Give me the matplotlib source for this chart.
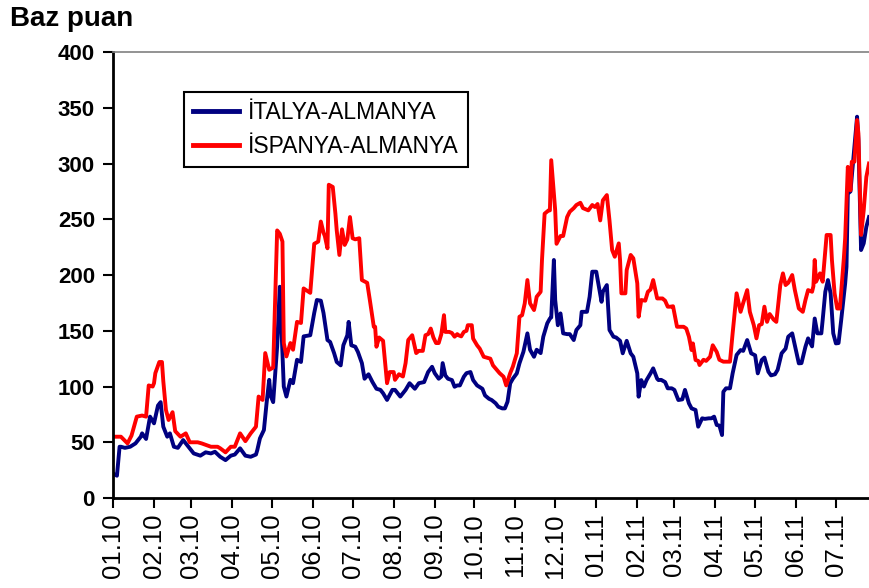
import matplotlib
matplotlib.use("Agg")
import matplotlib.pyplot as plt
import pandas as pd

plt.rcParams['font.family'] = ['Liberation Sans', 'DejaVu Sans']

start = pd.Timestamp('2010-01-01')

# days since 2010-01-01 and spread values (basis points)
italy_days = [0, 3, 5, 6, 9, 13, 17, 21, 22, 25, 28, 31, 34, 36, 38, 41, 43, 46, 49, 53,
              57, 61, 66, 70, 74, 77, 81, 85, 89, 92, 96, 100, 104, 108, 109, 111, 114, 116,
              118, 119, 121, 124, 126, 127, 129, 131, 134, 136, 139, 142, 144, 149, 152, 154,
              157, 159, 162, 164, 167, 169, 172, 174, 177, 178, 180, 183, 185, 188, 190, 193,
              196, 199, 202, 204, 207, 211, 213, 217, 221, 224, 228, 231, 235, 238, 241, 243,
              246, 248, 249, 251, 253, 256, 258, 260, 262, 265, 267, 270, 272, 275, 279, 281,
              284, 286, 289, 291, 294, 296, 298, 300, 302, 305, 307, 310, 313, 315, 318, 320,
              323, 325, 328, 330, 331, 333, 334, 336, 338, 340, 343, 345, 348, 350, 353, 354,
              358, 360, 362, 365, 367, 369, 370, 373, 375, 378, 380, 383, 385, 388, 391, 393,
              396, 397, 399, 401, 403, 406, 408, 411, 412, 414, 417, 419, 422, 424, 427, 430,
              432, 435, 437, 440, 442, 445, 447, 450, 452, 454, 456, 458, 460, 461, 463, 466,
              468, 471, 474, 476, 479, 482, 485, 487, 490, 492, 495, 497, 500, 502, 505, 508,
              510, 513, 515, 518, 520, 523, 525, 528, 530, 532, 535, 536, 538, 540, 542, 544,
              546, 548, 550, 553, 554, 555, 557, 559, 562, 563, 565, 567, 569, 571]
italy_vals = [22, 20, 46, 46, 45, 46, 49, 55, 58, 53, 73, 67, 83, 86, 64, 55, 58, 46, 45, 52,
              46, 40, 38, 41, 40, 41.5, 37, 34, 38, 39, 44.6, 38, 37, 39, 43, 53.5, 61, 85,
              106, 92, 86, 136, 189.5, 160, 100, 91, 106, 103, 124, 122, 145, 146, 166, 177.6,
              177, 166, 141.7, 140, 130, 122, 119, 137, 146, 158, 137, 135.7, 131, 121, 107, 111,
              104, 98, 97, 94, 88, 97, 97, 91, 97, 103, 98, 103, 104, 113, 117.7, 112,
              107, 109, 121, 110, 107, 105.8, 99.8, 101, 101, 108.8, 112, 113, 105.8, 101, 98, 92,
              89, 87.9, 85, 81.9, 80.4, 80.4, 86.4, 102.8, 107, 111.8, 120.8, 131.2, 147.7, 133, 126.7, 133,
              130, 144.7, 156.7, 161, 162, 213.5, 177.6, 155, 165.6, 147.7, 147, 147, 141.7, 150.7, 155, 167,
              167, 180.5, 203, 203, 189.5, 176, 185, 191, 150.7, 144.7, 144, 141, 129.8, 141, 129.8, 126.7,
              111.8, 90.9, 105.8, 100, 105.8, 111.8, 116.3, 107, 105.8, 106, 104, 98.4, 98.4, 97, 87.9, 88.5,
              97, 84.9, 80.4, 79, 64, 71.5, 71, 71.5, 71.5, 73, 65.5, 65, 56.5, 95.3, 98.4, 98.4,
              111.8, 128.3, 132.7, 132, 141.7, 129.8, 128, 111.8, 123.8, 126, 113.3, 110, 111, 115, 129.8, 134,
              144.7, 147.7, 137, 120.8, 121, 135.7, 143.2, 136, 161, 147.7, 147.7, 159.6, 185, 195.5, 183.6, 147.7,
              138.7, 139, 159.6, 192.5, 207.4, 273, 275, 301.6, 342, 321, 222.4, 228.4, 243.3, 252]

spain_days = [0, 2, 6, 11, 14, 18, 22, 25, 27, 30, 31, 32, 35, 37, 38, 40, 42, 45, 47, 51,
              55, 58, 64, 67, 74, 79, 81, 85, 89, 92, 96, 100, 104, 108, 110, 113, 115, 118,
              121, 124, 126, 128, 129, 131, 134, 136, 139, 142, 144, 149, 152, 155, 157, 159,
              160, 162, 163, 166, 168, 169, 171, 173, 175, 177, 179, 181, 183, 186, 188, 192,
              194, 197, 198, 199, 201, 204, 207, 209, 212, 213, 216, 219, 221, 223, 226, 229,
              231, 234, 236, 238, 240, 242, 244, 246, 248, 250, 251, 254, 256, 258, 260, 261,
              263, 265, 267, 268, 271, 272, 275, 277, 280, 282, 285, 287, 290, 292, 295, 297,
              300, 302, 305, 307, 309, 311, 313, 315, 318, 319, 320, 323, 324, 326, 329, 330,
              331, 334, 335, 338, 340, 343, 345, 348, 350, 353, 355, 359, 362, 364, 366, 368,
              370, 373, 375, 377, 379, 382, 383, 384, 387, 388, 391, 393, 396, 397, 399, 402,
              404, 406, 408, 409, 411, 413, 415, 417, 419, 421, 423, 426, 428, 431, 433, 435,
              437, 438, 440, 442, 443, 446, 448, 451, 453, 456, 458, 461, 464, 466, 468, 471,
              474, 476, 479, 481, 484, 486, 488, 490, 492, 494, 496, 499, 501, 502, 504, 506,
              508, 510, 513, 515, 518, 521, 523, 525, 528, 529, 530, 531, 534, 536, 538, 539,
              542, 543, 545, 547, 549, 552, 553, 555, 557, 558, 560, 562, 563, 565, 567, 569, 571]
spain_vals = [55, 55, 55, 49, 56, 73, 74, 73, 101, 100, 103, 112, 122, 122, 105, 79, 70, 77, 60, 55,
              58, 50, 50, 49, 46, 46, 44.6, 41, 46, 46, 58, 51, 58, 64, 91, 88, 130, 115,
              117, 240, 237, 230, 139, 127, 139, 133, 158, 157, 188, 184, 228, 230, 248, 238,
              235, 224, 281, 279, 255, 240, 218, 241, 227, 232, 252, 233, 232, 233, 195.5, 193,
              177.6, 153.6, 153.6, 135.7, 144, 141, 103, 113, 113, 106, 111, 109, 121, 141.7, 146, 130,
              132, 132, 146, 147, 152, 144, 139, 139, 147, 164, 149, 149, 148, 144.7, 147, 146,
              145, 149, 150, 155, 155, 143, 137, 134, 126.7, 126, 125, 119, 114.8, 112, 108.8, 101,
              112, 117.8, 129.8, 162.6, 164, 174.6, 195.5, 174.6, 168.6, 174, 180.5, 185, 213, 255, 258, 258,
              303, 258, 228, 235, 235, 252, 256.8, 260, 262.8, 264.8, 260, 258, 262.8, 261, 263.7, 249,
              267, 271.7, 249, 222.4, 216.4, 228.4, 213, 183.6, 183.6, 204.5, 218, 215, 192.5, 162.6, 177.6, 177,
              185, 187, 195.5, 190, 179, 179, 179, 177, 171.6, 171.6, 172, 153.6, 153.6, 153.6, 152, 144.7,
              132.7, 138.7, 123.8, 123, 119.3, 124, 123, 126.7, 137, 131, 124, 122.3, 122.3, 122.3, 147.7, 183.6,
              167, 175, 186.5, 167, 155, 143.2, 155, 156, 171.6, 158, 165, 160, 158, 168.6, 191, 201.5,
              191, 193, 200, 186.5, 170, 167, 177.6, 186.5, 185, 190, 213.5, 194, 201.5, 194, 222.4, 235.9,
              235.9, 213.5, 183.6, 170, 170, 215, 233, 297, 276, 301.6, 301.6, 339, 327, 236, 258, 288, 300]

month_ticks = ['2010-01-01', '2010-02-01', '2010-03-01', '2010-04-01', '2010-05-01', '2010-06-01',
               '2010-07-01', '2010-08-01', '2010-09-01', '2010-10-01', '2010-11-01', '2010-12-01',
               '2011-01-01', '2011-02-01', '2011-03-01', '2011-04-01', '2011-05-01', '2011-06-01',
               '2011-07-01']
month_labels = ['01.10', '02.10', '03.10', '04.10', '05.10', '06.10', '07.10', '08.10', '09.10',
                '10.10', '11.10', '12.10', '01.11', '02.11', '03.11', '04.11', '05.11', '06.11', '07.11']
y_ticks = [0, 50, 100, 150, 200, 250, 300, 350, 400]

italy_x = [start + pd.Timedelta(days=d) for d in italy_days]
spain_x = [start + pd.Timedelta(days=d) for d in spain_days]

fig = plt.figure(figsize=(8.69, 5.88), dpi=100)
ax = fig.add_axes([0.130, 0.153, 0.870, 0.7585])

ax.plot(italy_x, italy_vals, color='#000080', lw=2.8, label='İTALYA-ALMANYA',
        solid_joinstyle='round')
ax.plot(spain_x, spain_vals, color='#FF0000', lw=2.8, label='İSPANYA-ALMANYA',
        solid_joinstyle='round')

ax.set_xlim(start, start + pd.Timedelta(days=571))
ax.set_ylim(0, 400)
ax.set_yticks(y_ticks)
ax.set_yticklabels([str(v) for v in y_ticks], fontsize=16, fontweight='bold')
ax.set_xticks([pd.Timestamp(t) for t in month_ticks])
ax.set_xticklabels(month_labels, rotation=90, fontsize=18.5)

ax.tick_params(axis='both', direction='out', length=7, width=1.5, color='black')
ax.tick_params(axis='y', pad=6)
ax.tick_params(axis='x', pad=4)

for side in ['left', 'bottom']:
    ax.spines[side].set_linewidth(2)
    ax.spines[side].set_color('black')
ax.spines['right'].set_visible(False)
ax.spines['top'].set_color('#808080')
ax.spines['top'].set_linewidth(1.2)

leg = ax.legend(loc='upper left', bbox_to_anchor=(0.094, 0.910), borderaxespad=0,
                frameon=True, fancybox=False, framealpha=1, edgecolor='black',
                fontsize=16.5, handlelength=2.0, handletextpad=0.4, borderpad=0.4,
                labelspacing=0.45)
leg.get_frame().set_linewidth(1.5)
for line in leg.get_lines():
    line.set_linewidth(3.5)

fig.text(0.012, 0.968, 'Baz puan', fontsize=20, fontweight='bold', va='center', ha='left')

fig.savefig('out.png', dpi=100)
